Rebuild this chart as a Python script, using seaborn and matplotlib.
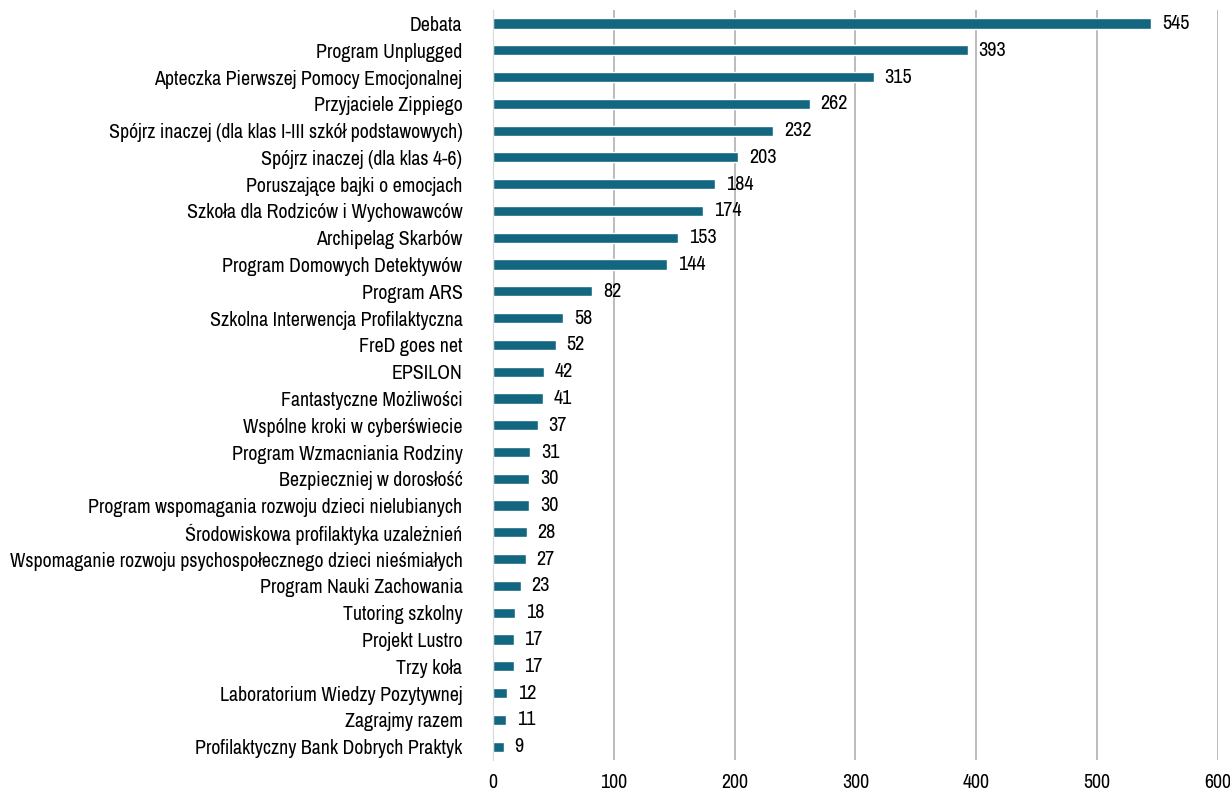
import pandas as pd
import matplotlib.pyplot as plt
import seaborn as sns
from matplotlib import font_manager

# Program names and counts
programs = [
    'Debata', 'Program Unplugged', 'Apteczka Pierwszej Pomocy Emocjonalnej',
    'Przyjaciele Zippiego', 'Spójrz inaczej (dla klas I-III szkół podstawowych)',
    'Spójrz inaczej (dla klas 4-6)', 'Poruszające bajki o emocjach',
    'Szkoła dla Rodziców i Wychowawców', 'Archipelag Skarbów',
    'Program Domowych Detektywów', 'Program ARS',
    'Szkolna Interwencja Profilaktyczna', 'FreD goes net', 'EPSILON',
    'Fantastyczne Możliwości', 'Wspólne kroki w cyberświecie',
    'Program Wzmacniania Rodziny', 'Bezpieczniej w dorosłość',
    'Program wspomagania rozwoju dzieci nielubianych',
    'Środowiskowa profilaktyka uzależnień',
    'Wspomaganie rozwoju psychospołecznego dzieci nieśmiałych',
    'Program Nauki Zachowania', 'Tutoring szkolny', 'Projekt Lustro',
    'Trzy koła', 'Laboratorium Wiedzy Pozytywnej', 'Zagrajmy razem',
    'Profilaktyczny Bank Dobrych Praktyk',
]
counts = [545, 393, 315, 262, 232, 203, 184, 174, 153, 144, 82, 58, 52, 42,
          41, 37, 31, 30, 30, 28, 27, 23, 18, 17, 17, 12, 11, 9]

df = pd.DataFrame({'Program': programs, 'Count': counts})

sns.set_style('white')
# look for a narrow font, otherwise use DejaVu Sans Condensed
names = {f.name for f in font_manager.fontManager.ttflist}
narrow = [n for n in names if 'Narrow' in n or 'Condensed' in n]
if narrow:
    plt.rcParams['font.family'] = [sorted(narrow)[0], 'DejaVu Sans']
else:
    plt.rcParams['font.family'] = ['DejaVu Sans']
    plt.rcParams['font.stretch'] = 'condensed'

fig = plt.figure(figsize=(12.3, 7.94), dpi=100)
ax = fig.add_axes([0.4008, 0.0428, 0.5894, 0.9445])

sns.barplot(data=df, x='Count', y='Program', color='#136680', width=0.38,
            saturation=1, ax=ax)

for i, v in enumerate(counts):
    ax.text(v + 9, i, str(v), va='center', ha='left', fontsize=14.5, color='black')

ax.set_xlim(0, 600)
ax.set_ylim(27.5, -0.5)
ax.set_xticks(range(0, 601, 100))
ax.xaxis.grid(True, color='#b0b0b0', linewidth=1.2)
ax.set_axisbelow(True)
for s in ['top', 'right', 'bottom']:
    ax.spines[s].set_visible(False)
ax.spines['left'].set_color('#d9d9d9')
ax.tick_params(axis='both', length=0, labelsize=14.3, labelcolor='black')
ax.tick_params(axis='x', pad=9)
ax.tick_params(axis='y', pad=22)
ax.set_xlabel('')
ax.set_ylabel('')

fig.savefig('out.png', dpi=100)
